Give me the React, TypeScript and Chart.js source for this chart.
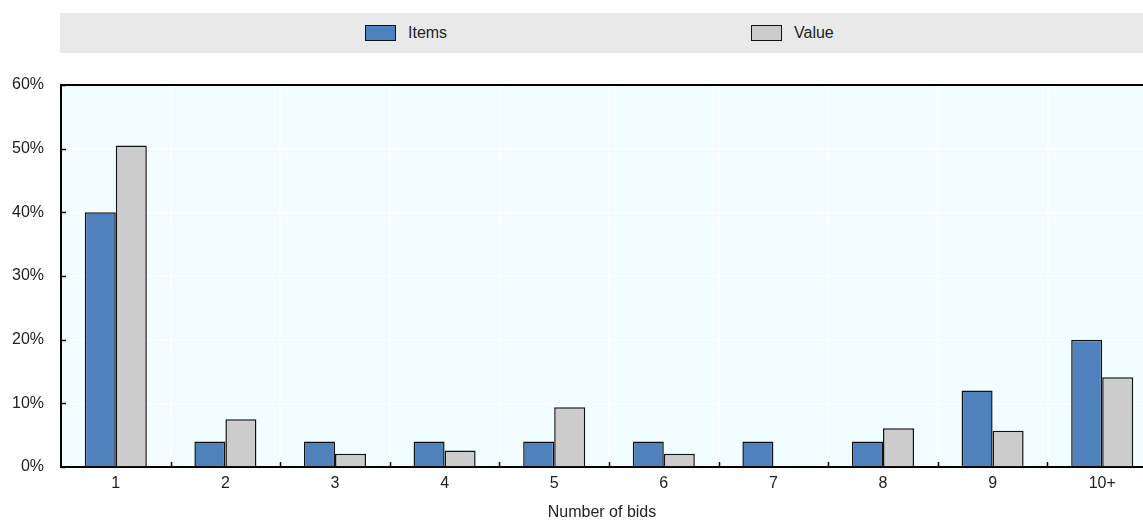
import React, { useEffect, useRef } from "react";
import { Chart, registerables } from "chart.js";

Chart.register(...registerables);

const categories = ["1", "2", "3", "4", "5", "6", "7", "8", "9", "10+"];
const itemsValues = [40, 4, 4, 4, 4, 4, 4, 4, 12, 20];
const valueValues = [50.5, 7.5, 2.1, 2.6, 9.4, 2.1, 0, 6.1, 5.7, 14.1];
const yTicks = [0, 10, 20, 30, 40, 50, 60];
const seriesNames = ["Items", "Value"];
const xTitle = "Number of bids";

const FONT = "'Liberation Sans Narrow', 'Arial Narrow', 'Liberation Sans', Arial, sans-serif";
const FS = 16;
const BLUE = "#4f81bd";
const GREY = "#cccccc";

const decorPlugin = {
  id: "decor",
  beforeDraw(chart: any) {
    const { ctx, chartArea } = chart;
    ctx.save();
    ctx.fillStyle = "#f2fdff";
    ctx.fillRect(chartArea.left, chartArea.top, chartArea.right - chartArea.left, chartArea.bottom - chartArea.top);
    ctx.restore();
  },
  afterDatasetsDraw(chart: any) {
    const { ctx, chartArea, scales } = chart;
    const x = scales.x;
    const y = scales.y;
    ctx.save();
    ctx.strokeStyle = "#000";
    ctx.lineWidth = 1.5;
    yTicks.forEach((v) => {
      const py = Math.round(y.getPixelForValue(v)) + 0.5;
      ctx.beginPath();
      ctx.moveTo(chartArea.left, py);
      ctx.lineTo(chartArea.left + 5, py);
      ctx.stroke();
    });
    const n = categories.length;
    for (let i = 1; i < n; i++) {
      const px = Math.round((x.getPixelForValue(i - 1) + x.getPixelForValue(i)) / 2) + 0.5;
      ctx.beginPath();
      ctx.moveTo(px, chartArea.bottom);
      ctx.lineTo(px, chartArea.bottom - 5);
      ctx.stroke();
    }
    ctx.lineWidth = 2;
    ctx.beginPath();
    ctx.moveTo(chartArea.left, chartArea.top);
    ctx.lineTo(chartArea.right, chartArea.top);
    ctx.stroke();
    ctx.restore();
  },
};

export default function App() {
  const ref = useRef<HTMLCanvasElement | null>(null);
  useEffect(() => {
    if (!ref.current) return;
    const chart = new Chart(ref.current, {
      type: "bar",
      data: {
        labels: categories,
        datasets: [
          {
            label: seriesNames[0],
            data: itemsValues,
            backgroundColor: BLUE,
            borderColor: "#111",
            borderWidth: 1.5,
            categoryPercentage: 0.566,
            barPercentage: 1,
          },
          {
            label: seriesNames[1],
            data: valueValues,
            backgroundColor: GREY,
            borderColor: "#111",
            borderWidth: 1.5,
            categoryPercentage: 0.566,
            barPercentage: 1,
          },
        ],
      },
      options: {
        animation: false,
        responsive: false,
        maintainAspectRatio: false,
        layout: { padding: { top: 85, right: 3, left: 0, bottom: 0 } },
        plugins: { legend: { display: false }, tooltip: { enabled: false } },
        scales: {
          x: {
            grid: { color: "#ffffff", lineWidth: 1.5, drawTicks: false, offset: true },
            border: { display: true, color: "#000", width: 2 },
            ticks: { color: "#222", font: { family: FONT, size: FS }, padding: 7 },
            title: { display: false },
            afterFit(scale: any) {
              scale.height = 56;
            },
          },
          y: {
            min: 0,
            max: 60,
            grid: { color: "#ffffff", lineWidth: 1.5, drawTicks: false },
            border: { display: true, color: "#000", width: 2 },
            ticks: {
              stepSize: 10,
              color: "#222",
              font: { family: FONT, size: FS },
              padding: 17,
              callback: (v: any) => v + "%",
            },
            afterFit(scale: any) {
              scale.width = 61;
            },
          },
        },
      },
      plugins: [decorPlugin],
    });
    return () => chart.destroy();
  }, []);

  const legendText: React.CSSProperties = {
    position: "absolute",
    top: 22,
    fontFamily: FONT,
    fontSize: FS,
    color: "#222",
    lineHeight: "22px",
  };
  const swatch = (left: number, color: string): React.CSSProperties => ({
    position: "absolute",
    left,
    top: 25,
    width: 29,
    height: 14,
    background: color,
    border: "1px solid #111",
  });

  return (
    <div style={{ position: "fixed", left: 0, top: 0, width: 1143, height: 523, background: "#fff", overflow: "hidden" }}>
      <canvas ref={ref} width={1160} height={523} style={{ position: "absolute", left: 0, top: 0 }} />
      <div style={{ position: "absolute", left: 60, top: 13, width: 1083, height: 40, background: "#e9e9e9" }} />
      <div style={swatch(365, BLUE)} />
      <div style={{ ...legendText, left: 408 }}>{seriesNames[0]}</div>
      <div style={swatch(751, GREY)} />
      <div style={{ ...legendText, left: 794 }}>{seriesNames[1]}</div>
      <div
        style={{
          position: "absolute",
          left: 502,
          width: 200,
          top: 501,
          textAlign: "center",
          fontFamily: FONT,
          fontSize: FS,
          color: "#222",
          lineHeight: "22px",
        }}
      >
        {xTitle}
      </div>
    </div>
  );
}
